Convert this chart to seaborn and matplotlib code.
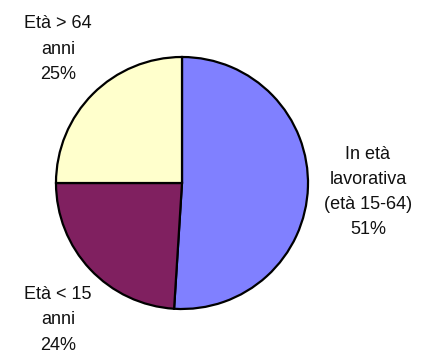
import matplotlib
matplotlib.use("Agg")
import matplotlib.pyplot as plt
import seaborn as sns

# data
categories = ["In età\nlavorativa\n(età 15-64)", "Età < 15\nanni", "Età > 64\nanni"]
shares = [51, 24, 25]
colors = ["#8080FF", "#802060", "#FFFFCC"]

sns.set_theme(style="white")
plt.rcParams["font.family"] = ["Liberation Sans", "DejaVu Sans"]

fig = plt.figure(figsize=(4.27, 3.53), dpi=100)
ax = fig.add_axes([0, 0, 1, 1])

ax.pie(
    shares,
    colors=colors,
    startangle=90,
    counterclock=False,
    center=(182, 170),
    radius=126,
    frame=True,
    wedgeprops=dict(edgecolor="black", linewidth=1.6),
)

# pie() resets limits, so set them afterwards
ax.set_xlim(0, 427)
ax.set_ylim(0, 353)
ax.set_aspect("equal")
ax.axis("off")

# label positions (text only)
label_pos = [(368, 161), (58, 33), (58, 304)]
for cat, val, (x, y) in zip(categories, shares, label_pos):
    ax.text(x, y, f"{cat}\n{val}%", ha="center", va="center",
            fontsize=13, linespacing=1.62, color="#111111")

plt.savefig("out.png", dpi=100)
